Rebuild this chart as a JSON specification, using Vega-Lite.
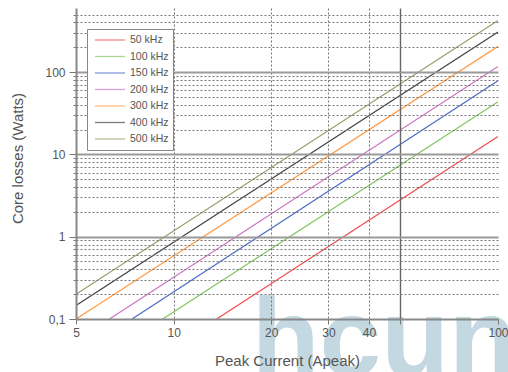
{
  "$schema": "https://vega.github.io/schema/vega-lite/v6.json",
  "autosize": {"type": "none"},
  "width": 422,
  "height": 311,
  "padding": {"left": 76, "top": 8, "right": 10, "bottom": 53},
  "background": "white",
  "config": {
    "font": "Liberation Sans",
    "view": {"stroke": null}
  },
  "datasets": {
    "losses": [
      {"series": "50 kHz", "current": 13.57, "loss": 0.1},
      {"series": "50 kHz", "current": 100, "loss": 16.5},
      {"series": "100 kHz", "current": 9.25, "loss": 0.1},
      {"series": "100 kHz", "current": 100, "loss": 43.6},
      {"series": "150 kHz", "current": 7.44, "loss": 0.1},
      {"series": "150 kHz", "current": 100, "loss": 78.4},
      {"series": "200 kHz", "current": 6.34, "loss": 0.1},
      {"series": "200 kHz", "current": 100, "loss": 117},
      {"series": "300 kHz", "current": 5, "loss": 0.1},
      {"series": "300 kHz", "current": 100, "loss": 205},
      {"series": "400 kHz", "current": 5, "loss": 0.146},
      {"series": "400 kHz", "current": 100, "loss": 306},
      {"series": "500 kHz", "current": 5, "loss": 0.2},
      {"series": "500 kHz", "current": 100, "loss": 423}
    ],
    "brand": [
      {"word": "hcun", "current": 17.4, "loss": 0.0205}
    ]
  },
  "layer": [
    {
      "data": {"name": "brand"},
      "mark": {"type": "text", "align": "left", "baseline": "alphabetic", "fontSize": 111, "fontWeight": "bold", "color": "#c3d8e0", "clip": false},
      "encoding": {
        "x": {"field": "current", "type": "quantitative", "scale": {"type": "log", "domain": [5, 100], "nice": false}},
        "y": {"field": "loss", "type": "quantitative", "scale": {"type": "log", "domain": [0.1, 600], "nice": false}},
        "text": {"field": "word"}
      }
    },
    {
      "data": {"name": "losses"},
      "mark": {"type": "line", "clip": true},
      "encoding": {
        "x": {
          "field": "current",
          "type": "quantitative",
          "scale": {"type": "log", "domain": [5, 100], "nice": false},
          "axis": {
            "zindex": 1,
            "title": "Peak Current (Apeak)",
            "values": [5, 10, 20, 30, 40, 50, 100],
            "labelExpr": "datum.value == 50 ? '' : datum.label",
            "labelFontSize": 12,
            "labelColor": "#555555",
            "labelPadding": 3,
            "labelFlush": false,
            "tickSize": 5,
            "tickColor": "#777777",
            "domainColor": "#888888",
            "domainWidth": 2,
            "grid": true,
            "gridDash": {"condition": {"test": "datum.value == 50", "value": []}, "value": [2, 2]},
            "gridColor": {"condition": {"test": "datum.value == 50", "value": "#666666"}, "value": "#777777"},
            "gridWidth": {"condition": {"test": "datum.value == 50", "value": 1.4}, "value": 1},
            "gridOpacity": {"condition": {"test": "datum.value == 5 || datum.value == 100", "value": 0}, "value": 1},
            "titleFontSize": 15,
            "titleFontWeight": "normal",
            "titleColor": "#555555",
            "titleX": 211,
            "titleY": 46,
            "titleBaseline": "alphabetic"
          }
        },
        "y": {
          "field": "loss",
          "type": "quantitative",
          "scale": {"type": "log", "domain": [0.1, 600], "nice": false},
          "axis": {
            "zindex": 1,
            "title": "Core losses (Watts)",
            "values": [0.1, 0.2, 0.3, 0.4, 0.5, 0.6, 0.7, 0.8, 0.9, 1, 2, 3, 4, 5, 6, 7, 8, 9, 10, 20, 30, 40, 50, 60, 70, 80, 90, 100, 200, 300, 400, 500],
            "labelExpr": "abs(log(datum.value)/LN10 - round(log(datum.value)/LN10)) < 0.000001 ? replace(toString(datum.value), '.', ',') : ''",
            "labelFontSize": 12,
            "labelColor": "#555555",
            "labelPadding": 4,
            "tickSize": {"condition": {"test": "abs(log(datum.value)/LN10 - round(log(datum.value)/LN10)) < 0.000001", "value": 7}, "value": 3},
            "tickColor": "#777777",
            "domainColor": "#888888",
            "domainWidth": 2,
            "grid": true,
            "gridDash": {"condition": {"test": "abs(log(datum.value)/LN10 - round(log(datum.value)/LN10)) < 0.000001", "value": []}, "value": [2, 2]},
            "gridColor": {"condition": {"test": "abs(log(datum.value)/LN10 - round(log(datum.value)/LN10)) < 0.000001", "value": "#9a9a9a"}, "value": "#777777"},
            "gridWidth": {"condition": {"test": "abs(log(datum.value)/LN10 - round(log(datum.value)/LN10)) < 0.000001", "value": 2}, "value": 1},
            "gridOpacity": {"condition": {"test": "datum.value == 0.1", "value": 0}, "value": 1},
            "titleFontSize": 15,
            "titleFontWeight": "normal",
            "titleColor": "#555555",
            "titleAngle": -90,
            "titleAlign": "center",
            "titleBaseline": "middle",
            "titleX": -59,
            "titleY": 150
          }
        },
        "color": {
          "field": "series",
          "type": "nominal",
          "sort": ["50 kHz", "100 kHz", "150 kHz", "200 kHz", "300 kHz", "400 kHz", "500 kHz"],
          "scale": {
            "domain": ["50 kHz", "100 kHz", "150 kHz", "200 kHz", "300 kHz", "400 kHz", "500 kHz"],
            "range": ["#f25252", "#84c864", "#5070c8", "#d07ac8", "#ffa050", "#464646", "#a0a070"]
          },
          "legend": {
            "zindex": 2,
            "orient": "none",
            "legendX": 11,
            "legendY": 21,
            "title": null,
            "symbolType": "stroke",
            "symbolSize": 900,
            "symbolStrokeWidth": 2,
            "symbolOpacity": 0.7,
            "symbolOffset": 3,
            "clipHeight": 14,
            "rowPadding": 2.5,
            "labelFontSize": 10.5,
            "labelColor": "#555555",
            "labelOffset": 4,
            "padding": 4,
            "fillColor": "white",
            "strokeColor": "#888888"
          }
        },
        "strokeWidth": {
          "field": "series",
          "type": "nominal",
          "scale": {
            "domain": ["50 kHz", "100 kHz", "150 kHz", "200 kHz", "300 kHz", "400 kHz", "500 kHz"],
            "range": [1.3, 1.3, 1.3, 1.3, 1.3, 2.2, 1.3]
          },
          "legend": null
        }
      }
    }
  ]
}
